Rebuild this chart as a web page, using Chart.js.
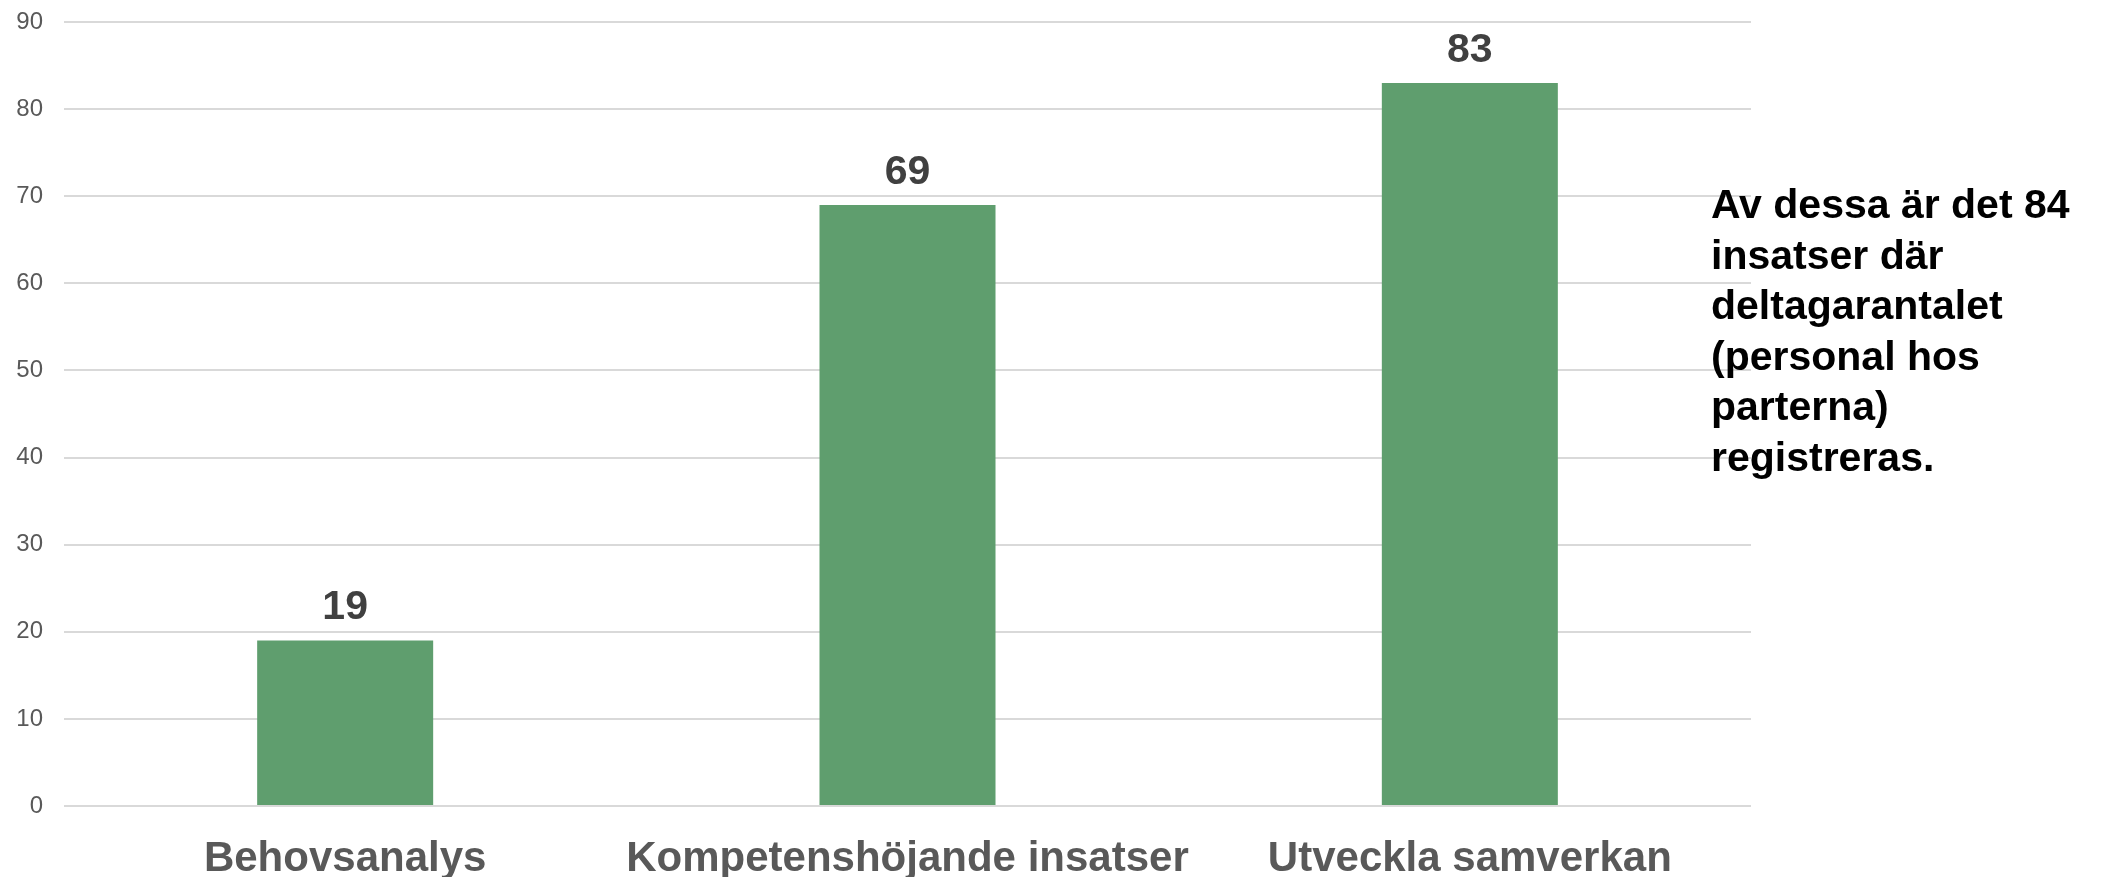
<!DOCTYPE html>
<html>
<head>
<meta charset="utf-8">
<script src="https://cdn.jsdelivr.net/npm/chart.js@4/dist/chart.umd.min.js"></script>
<style>
  html, body { margin: 0; padding: 0; background: #fff; }
  #wrap { width: 2104px; height: 877px; }
</style>
</head>
<body>
<div id="wrap"><canvas id="chart" width="2104" height="877"></canvas></div>
<script>
// data
const categories = ['Behovsanalys', 'Kompetenshöjande insatser', 'Utveckla samverkan'];
const values = [19, 69, 83];
const yMin = 0;
const yMax = 90;
const yStep = 10;
const noteLines = [
  'Av dessa är det 84',
  'insatser där',
  'deltagarantalet',
  '(personal hos',
  'parterna)',
  'registreras.',
];

const barColor = 'rgb(95, 158, 110)';
const gridColor = '#d9d9d9';
const axisText = '#595959';
const labelText = '#404040';
const fontFamily = '"Liberation Sans", Arial, sans-serif';

// värdet ovanför varje stapel
const valueLabels = {
  id: 'valueLabels',
  afterDatasetsDraw(chart) {
    const { ctx } = chart;
    const meta = chart.getDatasetMeta(0);
    ctx.save();
    ctx.font = 'bold 41px ' + fontFamily;
    ctx.fillStyle = labelText;
    ctx.textAlign = 'center';
    ctx.textBaseline = 'alphabetic';
    meta.data.forEach((bar, i) => {
      ctx.fillText(String(values[i]), bar.x, bar.y - 21);
    });
    ctx.restore();
  },
};

// textrutan till höger
const sideNote = {
  id: 'sideNote',
  afterDraw(chart) {
    const { ctx } = chart;
    ctx.save();
    ctx.font = 'bold 41px ' + fontFamily;
    ctx.fillStyle = '#000';
    ctx.textAlign = 'left';
    ctx.textBaseline = 'alphabetic';
    noteLines.forEach((line, i) => {
      ctx.fillText(line, 1711, 218 + i * 50.6);
    });
    ctx.restore();
  },
};

new Chart(document.getElementById('chart'), {
  type: 'bar',
  data: {
    labels: categories,
    datasets: [
      {
        data: values,
        backgroundColor: barColor,
        categoryPercentage: 1,
        barPercentage: 0.313,
      },
    ],
  },
  options: {
    responsive: false,
    animation: false,
    devicePixelRatio: 1,
    layout: { padding: { top: 22, right: 353, left: 0, bottom: 0 } },
    plugins: {
      legend: { display: false },
      tooltip: { enabled: false },
    },
    scales: {
      x: {
        grid: { display: false, drawTicks: false },
        border: { display: false },
        ticks: {
          color: axisText,
          font: { family: fontFamily, size: 42, weight: 'bold' },
          padding: 28,
          maxRotation: 0,
          autoSkip: false,
        },
        afterFit(scale) {
          scale.height = 71;
        },
      },
      y: {
        min: yMin,
        max: yMax,
        grid: { color: gridColor, lineWidth: 2, drawTicks: false },
        border: { display: false },
        ticks: {
          stepSize: yStep,
          color: axisText,
          font: { family: fontFamily, size: 24 },
          padding: 21,
        },
        afterFit(scale) {
          // fast bredd, och ingen extra luft ovanför 90
          scale.width = 64;
          scale.paddingTop = 0;
          scale.paddingBottom = 0;
        },
      },
    },
  },
  plugins: [valueLabels, sideNote],
});
</script>
</body>
</html>
